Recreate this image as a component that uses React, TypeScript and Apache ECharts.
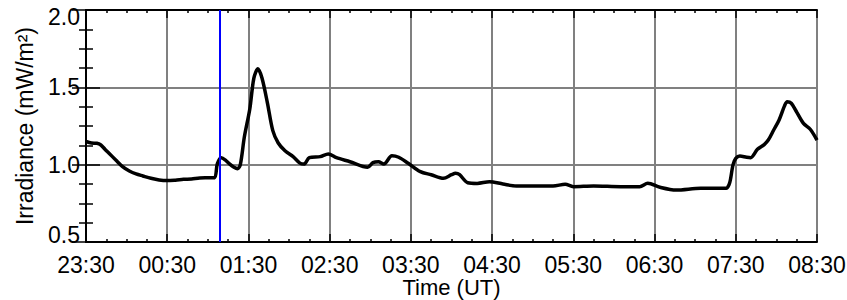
import React, { useEffect, useRef } from "react";
import * as echarts from "echarts";

// Observation times (UT) and irradiance values (mW/m²)
const times: string[] = [
  "23:30", "23:34", "23:38", "23:41", "23:44", "23:47", "23:52", "23:57", "00:02", "00:07",
  "00:12", "00:18", "00:24", "00:30", "00:36", "00:42", "00:48", "00:54", "01:00", "01:05",
  "01:07", "01:10", "01:13", "01:16", "01:19", "01:22", "01:24", "01:27", "01:31", "01:34",
  "01:37", "01:40", "01:44", "01:48", "01:52", "01:57", "02:03", "02:08", "02:11", "02:15",
  "02:23", "02:29", "02:35", "02:45", "02:58", "03:02", "03:06", "03:10", "03:16", "03:21",
  "03:28", "03:37", "03:45", "03:54", "04:00", "04:03", "04:06", "04:12", "04:19", "04:28",
  "04:38", "04:48", "05:03", "05:15", "05:24", "05:30", "05:45", "06:05", "06:19", "06:25",
  "06:34", "06:46", "07:04", "07:23", "07:25", "07:26", "07:28", "07:30", "07:33", "07:38",
  "07:41", "07:46", "07:51", "07:54", "07:58", "08:02", "08:06", "08:08", "08:11", "08:15",
  "08:20", "08:25", "08:30",
];
const irradiance: number[] = [
  1.15, 1.14, 1.138, 1.127, 1.1, 1.074, 1.03, 0.987, 0.959, 0.94,
  0.927, 0.912, 0.901, 0.897, 0.9, 0.905, 0.908, 0.914, 0.915, 0.916,
  1.005, 1.045, 1.03, 1.005, 0.985, 0.974, 1.0, 1.18, 1.36, 1.56,
  1.62, 1.56, 1.4, 1.22, 1.14, 1.09, 1.052, 1.01, 1.004, 1.045,
  1.052, 1.069, 1.045, 1.019, 0.983, 1.013, 1.019, 1.004, 1.058, 1.048,
  1.009, 0.955, 0.935, 0.912, 0.935, 0.944, 0.935, 0.883, 0.879, 0.89,
  0.875, 0.862, 0.862, 0.862, 0.873, 0.858, 0.862, 0.858, 0.858, 0.88,
  0.854, 0.836, 0.847, 0.847, 0.87, 0.901, 1.0, 1.041, 1.056, 1.048,
  1.045, 1.099, 1.13, 1.159, 1.224, 1.289, 1.38, 1.407, 1.397, 1.34,
  1.267, 1.229, 1.159,
];
const startTime = "23:30";
const endTime = "08:30";
const markerTime = "01:09";
const yTicks: number[] = [0.5, 1.0, 1.5, 2.0];

const toMin = (s: string) => {
  const [h, m] = s.split(":").map(Number);
  return h * 60 + m;
};
const startMin = toMin(startTime);
const spanMin = (toMin(endTime) - startMin + 1440) % 1440;
const offset = (s: string) => (toMin(s) - startMin + 1440) % 1440;
const fmt = (v: number) => {
  const m = (startMin + Math.round(v)) % 1440;
  const hh = String(Math.floor(m / 60)).padStart(2, "0");
  const mm = String(m % 60).padStart(2, "0");
  return `${hh}:${mm}`;
};

const FONT = "Liberation Sans";
const FS = 23;

export default function App() {
  const ref = useRef<HTMLDivElement>(null);
  useEffect(() => {
    if (!ref.current) return;
    const chart = echarts.init(ref.current, null, { renderer: "svg" });
    const data = times.map((t, i) => [i === times.length - 1 ? spanMin : offset(t), irradiance[i]]);
    const yMin = yTicks[0];
    const yMax = yTicks[yTicks.length - 1];
    const xBase = {
      type: "value" as const,
      min: 0,
      max: spanMin,
      interval: 60,
      axisLine: { show: true, lineStyle: { color: "#000", width: 2 } },
      axisTick: { show: true, inside: true, length: 8, lineStyle: { color: "#000", width: 1.5 } },
      minorTick: { show: true, splitNumber: 4, length: 3, lineStyle: { color: "#000", width: 1.5 } },
    };
    const yBase = {
      type: "value" as const,
      min: yMin,
      max: yMax,
      interval: 0.5,
      axisLine: { show: true, lineStyle: { color: "#000", width: 2 } },
      axisTick: { show: true, inside: true, length: 14, lineStyle: { color: "#000", width: 1.5 } },
      minorTick: { show: true, splitNumber: 4, length: 7, lineStyle: { color: "#000", width: 1.5 } },
    };
    const richBase = { fontFamily: FONT, fontSize: FS, color: "#000" };
    chart.setOption({
      animation: false,
      backgroundColor: "#fff",
      grid: { left: 86, right: 30, top: 10, bottom: 58, containLabel: false, outerBoundsMode: "none" },
      xAxis: [
        {
          ...xBase,
          position: "bottom",
          name: "Time (UT)",
          nameLocation: "middle",
          nameGap: 34,
          nameMoveOverlap: false,
          nameTextStyle: { fontFamily: FONT, fontSize: 22, lineHeight: 22, color: "#000" },
          axisLabel: { show: true, formatter: (v: number) => fmt(v), fontFamily: FONT, fontSize: FS, color: "#000", margin: 11 },
          splitLine: { show: true, lineStyle: { color: "#808080", width: 2 } },
        },
        {
          ...xBase,
          position: "top",
          axisLabel: { show: false },
          splitLine: { show: false },
        },
      ],
      yAxis: [
        {
          ...yBase,
          position: "left",
          name: "Irradiance (mW/m²)",
          nameLocation: "middle",
          nameGap: 50,
          nameMoveOverlap: false,
          nameTextStyle: { fontFamily: FONT, fontSize: FS, color: "#000" },
          axisLabel: {
            show: true,
            fontFamily: FONT,
            fontSize: FS,
            color: "#000",
            margin: 6,
            formatter: (v: number) => {
              const s = v.toFixed(1);
              if (Math.abs(v - yMin) < 1e-6) return `{lo|${s}}`;
              if (Math.abs(v - yMax) < 1e-6) return `{hi|${s}}`;
              return s;
            },
            rich: {
              lo: { ...richBase, padding: [0, 0, 14, 0] },
              hi: { ...richBase, padding: [14, 0, 0, 0] },
            },
          },
          splitLine: { show: true, lineStyle: { color: "#808080", width: 2 } },
        },
        {
          ...yBase,
          position: "right",
          axisLabel: { show: false },
          splitLine: { show: false },
        },
      ],
      series: [
        {
          type: "line",
          xAxisIndex: 0,
          yAxisIndex: 0,
          data,
          showSymbol: false,
          smooth: 0.3,
          lineStyle: { color: "#000", width: 3.5 },
          z: 3,
          markLine: {
            silent: true,
            symbol: "none",
            label: { show: false },
            lineStyle: { color: "#0000ff", width: 2, type: "solid" },
            data: [{ xAxis: offset(markerTime) }],
          },
        },
      ],
    });
    return () => chart.dispose();
  }, []);
  return (
    <div
      ref={ref}
      style={{ position: "absolute", left: 0, top: 0, width: 847, height: 300, background: "#fff" }}
    />
  );
}
